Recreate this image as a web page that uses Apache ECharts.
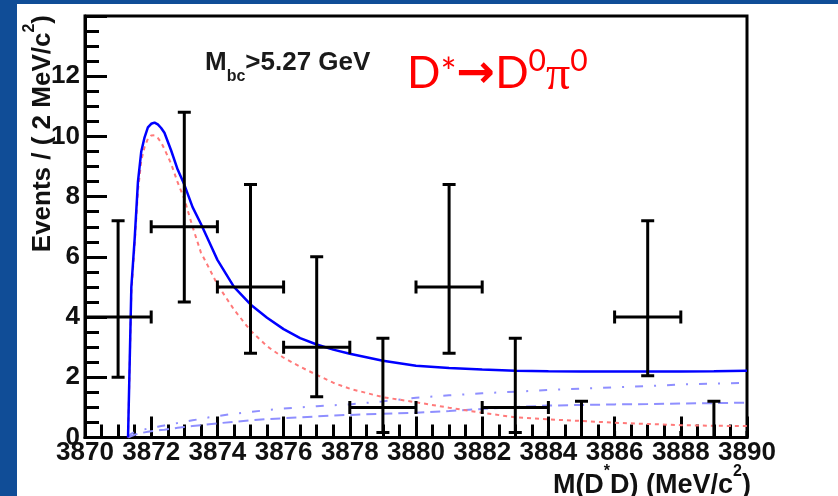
<!DOCTYPE html>
<html>
<head>
<meta charset="utf-8">
<script src="https://cdn.jsdelivr.net/npm/echarts@6/dist/echarts.min.js"></script>
<style>
  html, body { margin: 0; padding: 0; width: 838px; height: 496px; overflow: hidden; background: #104d97; }
  #panel { position: absolute; left: 17px; top: 4px; width: 821px; height: 492px; background: #ffffff; }
  #chart { position: absolute; left: 0; top: 0; width: 838px; height: 496px; }
</style>
</head>
<body>
<div id="panel"></div>
<div id="chart"></div>
<script>
// Binned data: 2 MeV/c^2 bins, counts with asymmetric (Poisson) errors
const binCenter = [3871, 3873, 3875, 3877, 3879, 3881, 3883, 3885, 3887, 3889];
const binHalfWidth = 1;
const counts  = [4, 7, 5, 3, 1, 5, 1, 0, 4, 0];
const errHigh = [3.2, 3.8, 3.4, 3.0, 2.3, 3.4, 2.3, 1.2, 3.2, 1.2];
const errLow  = [2.0, 2.5, 2.2, 1.65, 0.83, 2.2, 0.83, 0, 1.95, 0];

// Fit curves sampled on a common mass grid
const fitMass = [3871.30, 3871.40, 3871.50, 3871.60, 3871.70, 3871.80, 3871.90, 3872.00, 3872.10, 3872.20,
                 3872.30, 3872.40, 3872.60, 3872.80, 3873.00, 3873.25, 3873.50, 3873.75, 3874.00, 3874.50,
                 3875.00, 3875.50, 3876.00, 3876.50, 3877.00, 3877.50, 3878.00, 3879.00, 3880.00, 3881.00,
                 3882.00, 3883.00, 3884.00, 3885.00, 3886.00, 3887.00, 3888.00, 3889.00, 3890.00];
const fitTotal = [0.00, 5.00, 6.60, 8.50, 9.50, 9.97, 10.30, 10.42, 10.46, 10.40,
                  10.28, 10.12, 9.54, 8.90, 8.40, 7.65, 7.10, 6.50, 5.90, 5.00,
                  4.42, 3.98, 3.60, 3.30, 3.09, 2.92, 2.78, 2.55, 2.38, 2.31,
                  2.26, 2.22, 2.20, 2.19, 2.19, 2.19, 2.19, 2.20, 2.22];
const fitSignal = [0.00, 4.80, 6.40, 8.20, 9.20, 9.65, 9.92, 10.03, 10.04, 9.95,
                   9.80, 9.58, 9.10, 8.47, 7.93, 7.00, 6.15, 5.62, 5.08, 4.25,
                   3.55, 3.03, 2.65, 2.35, 2.08, 1.82, 1.62, 1.34, 1.17, 0.99,
                   0.82, 0.67, 0.60, 0.55, 0.49, 0.45, 0.41, 0.39, 0.38];
const fitBkgTotal = [0.00, 0.13, 0.18, 0.22, 0.25, 0.27, 0.30, 0.32, 0.34, 0.36,
                     0.38, 0.40, 0.44, 0.48, 0.52, 0.57, 0.62, 0.67, 0.71, 0.79,
                     0.85, 0.91, 0.96, 1.00, 1.04, 1.07, 1.10, 1.20, 1.32, 1.40,
                     1.47, 1.52, 1.58, 1.62, 1.67, 1.71, 1.76, 1.79, 1.82];
const fitBkgPart = [0.00, 0.05, 0.09, 0.12, 0.15, 0.17, 0.19, 0.21, 0.22, 0.23,
                    0.25, 0.26, 0.29, 0.32, 0.35, 0.38, 0.41, 0.44, 0.47, 0.52,
                    0.57, 0.61, 0.64, 0.67, 0.70, 0.73, 0.75, 0.79, 0.82, 0.88,
                    0.95, 1.01, 1.06, 1.08, 1.10, 1.11, 1.13, 1.14, 1.16];

const xTickLabels = ['3870', '3872', '3874', '3876', '3878', '3880', '3882', '3884', '3886', '3888', '3890'];

const ROOT_FONT = '"Liberation Sans", Arial, Helvetica, sans-serif';
const pairs = (ys) => fitMass.map((m, i) => [m, ys[i]]);

const chart = echarts.init(document.getElementById('chart'), null, { renderer: 'canvas' });

const axisCommon = {
  axisLine: { show: true, onZero: false, lineStyle: { color: '#000', width: 3 } },
  splitLine: { show: false },
  minorSplitLine: { show: false }
};

chart.setOption({
  animation: false,
  backgroundColor: 'transparent',
  grid: {
    left: 85, right: 91, top: 16, bottom: 58.5,
    show: true, borderColor: '#000', borderWidth: 3, backgroundColor: 'transparent',
    containLabel: false, outerBoundsMode: 'none'
  },
  xAxis: Object.assign({
    type: 'value', min: 3870, max: 3890, interval: 2,
    axisTick: { show: true, inside: true, length: 21, lineStyle: { color: '#000', width: 3 } },
    minorTick: { show: true, splitNumber: 4, length: 13, lineStyle: { color: '#000', width: 3 } },
    axisLabel: {
      margin: 2, fontSize: 26, fontWeight: 'bold', color: '#111', fontFamily: ROOT_FONT,
      showMinLabel: true, showMaxLabel: true,
      formatter: (v) => xTickLabels[Math.round((v - 3870) / 2)] || ''
    }
  }, axisCommon),
  yAxis: Object.assign({
    type: 'value', min: 0, max: 14, interval: 2,
    axisTick: { show: true, inside: true, length: 22, lineStyle: { color: '#000', width: 3 } },
    minorTick: { show: true, splitNumber: 4, length: 14, lineStyle: { color: '#000', width: 3 } },
    axisLabel: {
      margin: 5, fontSize: 26, fontWeight: 'bold', color: '#111', fontFamily: ROOT_FONT,
      showMaxLabel: false
    }
  }, axisCommon),
  series: [
    {
      name: 'Background (partial)', type: 'line', data: pairs(fitBkgPart),
      showSymbol: false, smooth: false, clip: true, z: 2,
      lineStyle: { color: '#8f8fff', width: 2, type: [10, 6] }
    },
    {
      name: 'Background', type: 'line', data: pairs(fitBkgTotal),
      showSymbol: false, smooth: false, clip: true, z: 2,
      lineStyle: { color: '#8f8fff', width: 2, type: [8, 11, 2, 11] }
    },
    {
      name: 'Signal', type: 'line', data: pairs(fitSignal),
      showSymbol: false, smooth: false, clip: true, z: 3,
      lineStyle: { color: '#ff7a7a', width: 2, type: [4, 4] }
    },
    {
      name: 'Total fit', type: 'line', data: pairs(fitTotal),
      showSymbol: false, smooth: false, clip: true, z: 4,
      lineStyle: { color: '#0000ff', width: 2.5 }
    },
    {
      name: 'Data', type: 'custom', clip: true, z: 5,
      data: binCenter.map((c, i) => [c, counts[i], errLow[i], errHigh[i], binHalfWidth]),
      renderItem: function (params, api) {
        const x = api.value(0), y = api.value(1);
        const lo = api.value(2), hi = api.value(3), hw = api.value(4);
        const pc = api.coord([x, y]);
        const pt = api.coord([x, y + hi]);
        const pb = api.coord([x, y - lo]);
        const pl = api.coord([x - hw, y]);
        const pr = api.coord([x + hw, y]);
        const cap = 6.5;
        const st = { stroke: '#000', lineWidth: 3 };
        const seg = (x1, y1, x2, y2) => ({ type: 'line', shape: { x1, y1, x2, y2 }, style: st });
        const kids = [
          seg(pc[0], pt[1], pc[0], pb[1]),
          seg(pl[0], pc[1], pr[0], pc[1]),
          seg(pc[0] - cap, pt[1], pc[0] + cap, pt[1]),
          seg(pl[0], pc[1] - cap, pl[0], pc[1] + cap),
          seg(pr[0], pc[1] - cap, pr[0], pc[1] + cap)
        ];
        if (lo > 0) kids.push(seg(pc[0] - cap, pb[1], pc[0] + cap, pb[1]));
        return { type: 'group', children: kids };
      }
    }
  ],
  graphic: [
    {
      // y-axis title, reading bottom to top, right-aligned at the top of the frame
      type: 'text', x: 35, y: 15, rotation: Math.PI / 2, silent: true,
      style: {
        text: '{t|Events / ( 2 MeV/c}{s|2}{t|)}',
        align: 'right', verticalAlign: 'middle',
        rich: {
          t: { fontSize: 26, fontWeight: 'bold', fontFamily: ROOT_FONT, fill: '#111', lineHeight: 27, verticalAlign: 'top', padding: [8, 0, 0, 0] },
          s: { fontSize: 16, fontWeight: 'bold', fontFamily: ROOT_FONT, fill: '#111', lineHeight: 16, verticalAlign: 'top' }
        }
      }
    },
    {
      // x-axis title, right-aligned at the end of the axis
      type: 'text', x: 751, y: 464, silent: true,
      style: {
        text: '{t|M(D}{s|*}{t|D) (MeV/c}{s|2}{t|)}',
        align: 'right', verticalAlign: 'top',
        rich: {
          t: { fontSize: 27, fontWeight: 'bold', fontFamily: ROOT_FONT, fill: '#111', lineHeight: 27, verticalAlign: 'top', padding: [8, 0, 0, 0] },
          s: { fontSize: 16, fontWeight: 'bold', fontFamily: ROOT_FONT, fill: '#111', lineHeight: 16, verticalAlign: 'top' }
        }
      }
    },
    {
      // selection cut
      type: 'text', x: 205, y: 50, silent: true,
      style: {
        text: '{m|M}{b|bc}{m|>5.27 GeV}',
        align: 'left', verticalAlign: 'top',
        rich: {
          m: { fontSize: 26, fontWeight: 'bold', fontFamily: ROOT_FONT, fill: '#1a1a1a', lineHeight: 27, verticalAlign: 'top' },
          b: { fontSize: 16, fontWeight: 'bold', fontFamily: ROOT_FONT, fill: '#1a1a1a', lineHeight: 16, verticalAlign: 'top', padding: [19, 0, 0, 0] }
        }
      }
    },
    {
      // decay channel label
      type: 'text', x: 407, y: 46, silent: true,
      style: {
        text: '{d|D}{st|*}{a|→}{d|D}{u|0}{p|π}{u|0}',
        align: 'left', verticalAlign: 'top',
        rich: {
          d: { fontSize: 44, fontFamily: 'Lato, "Open Sans", sans-serif', fill: '#ff0000', lineHeight: 44, verticalAlign: 'top', padding: [6, 0, 0, 0] },
          st: { fontSize: 38, fontFamily: 'Lato, "Open Sans", sans-serif', fill: '#ff0000', lineHeight: 44, verticalAlign: 'top', padding: [9, 0, 0, 0] },
          a: { fontSize: 46, fontWeight: 'bold', fontFamily: '"DejaVu Sans", sans-serif', fill: '#ff0000', lineHeight: 44, verticalAlign: 'top', padding: [6, 0, 0, 0] },
          p: { fontSize: 48, fontFamily: '"Liberation Serif", serif', fill: '#ff0000', lineHeight: 44, verticalAlign: 'top', padding: [6, 0, 0, 0] },
          u: { fontSize: 30, fontFamily: 'Lato, "Open Sans", sans-serif', fill: '#ff0000', lineHeight: 30, verticalAlign: 'top' }
        }
      }
    }
  ]
});
</script>
</body>
</html>
